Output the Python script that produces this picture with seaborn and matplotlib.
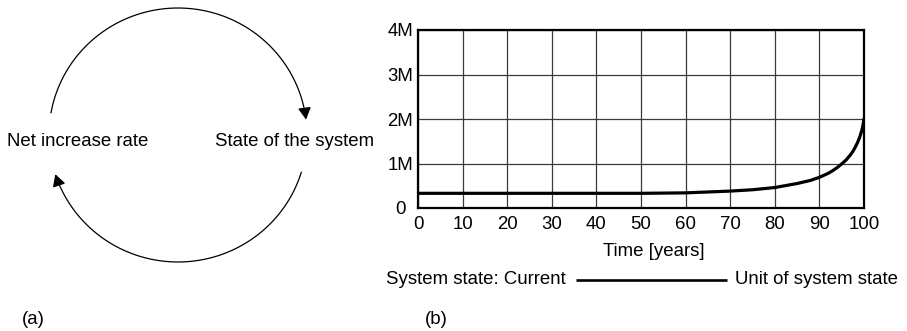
import numpy as np
import matplotlib
matplotlib.use("Agg")
import matplotlib.pyplot as plt
from matplotlib.patches import FancyArrowPatch
from matplotlib.path import Path
import seaborn as sns

# System state over time (millions of units)
years = [0, 10, 20, 30, 40, 50, 60, 65, 70, 75, 80, 85, 88, 90, 92, 93, 94,
         95, 96, 96.5, 97, 97.5, 98, 98.5, 99, 99.5, 99.75, 100]
state_millions = [0.33, 0.33, 0.33, 0.33, 0.33, 0.33, 0.34, 0.36, 0.38, 0.41,
                  0.46, 0.55, 0.62, 0.69, 0.78, 0.84, 0.91, 0.99, 1.08, 1.14,
                  1.20, 1.27, 1.36, 1.46, 1.58, 1.74, 1.85, 2.00]

x_ticks = [0, 10, 20, 30, 40, 50, 60, 70, 80, 90, 100]
y_ticks = [0, 1, 2, 3, 4]
y_tick_labels = ["0", "1M", "2M", "3M", "4M"]

loop_left_label = "Net increase rate"
loop_right_label = "State of the system"
x_label = "Time [years]"
legend_left = "System state: Current"
legend_right = "Unit of system state"

sns.set_style("white")
plt.rcParams["font.family"] = ["Liberation Sans", "DejaVu Sans"]
plt.rcParams["text.color"] = "black"
plt.rcParams["xtick.color"] = "black"
plt.rcParams["ytick.color"] = "black"
plt.rcParams["axes.labelcolor"] = "black"
FS = 13.4

W, H = 907, 331
fig = plt.figure(figsize=(W / 100, H / 100), dpi=100)

# ---- panel (b): the time series ----
ax = fig.add_axes([418 / W, 1 - 208 / H, 446 / W, 178 / H])
sns.lineplot(x=years, y=state_millions, ax=ax, color="black", linewidth=2.3)
ax.set_xlim(0, 100)
ax.set_ylim(0, 4)
ax.set_xticks(x_ticks)
ax.set_xticklabels([str(t) for t in x_ticks], fontsize=FS)
ax.set_yticks(y_ticks)
ax.set_yticklabels(y_tick_labels, fontsize=FS)
for lbl in ax.get_yticklabels():
    lbl.set_horizontalalignment("center")
ax.tick_params(axis="y", length=0, pad=12.9)
ax.tick_params(axis="x", length=0, pad=6.0)
ax.grid(True, color="#3a3a3a", linewidth=0.9)
for s in ax.spines.values():
    s.set_visible(True)
    s.set_color("black")
    s.set_linewidth(1.6)
ax.set_xlabel(x_label, fontsize=FS)
ax.xaxis.set_label_coords((654 - 418) / 446, -(252 - 208) / 178)
ax.xaxis.label.set_verticalalignment("center")

# ---- overlay in pixel units for the loop diagram and annotations ----
ov = fig.add_axes([0, 0, 1, 1])
ov.set_xlim(0, W)
ov.set_ylim(H, 0)
ov.axis("off")

cx, cy, rx, ry = 178, 135, 129, 127


def arc(theta0, theta1):
    th = np.radians(np.linspace(theta0, theta1, 200))
    return np.column_stack([cx + rx * np.cos(th), cy - ry * np.sin(th)])


for t0, t1 in [(170, 7), (-17, -162)]:
    pts = arc(t0, t1)
    patch = FancyArrowPatch(path=Path(pts), arrowstyle="-|>,head_length=0.4,head_width=0.22",
                            mutation_scale=18, color="black", linewidth=0.9,
                            shrinkA=0, shrinkB=0)
    ov.add_patch(patch)

ov.text(7, 142, loop_left_label, fontsize=FS, ha="left", va="center")
ov.text(215, 142, loop_right_label, fontsize=FS, ha="left", va="center")
ov.text(33, 320, "(a)", fontsize=FS, ha="center", va="center")
ov.text(436, 320, "(b)", fontsize=FS, ha="center", va="center")

# legend row
ov.text(566, 279.5, legend_left, fontsize=FS, ha="right", va="center")
ov.plot([576, 727], [279.5, 279.5], color="black", linewidth=1.9, solid_capstyle="butt")
ov.text(735, 279.5, legend_right, fontsize=FS, ha="left", va="center")

fig.savefig("out.png", dpi=100)
